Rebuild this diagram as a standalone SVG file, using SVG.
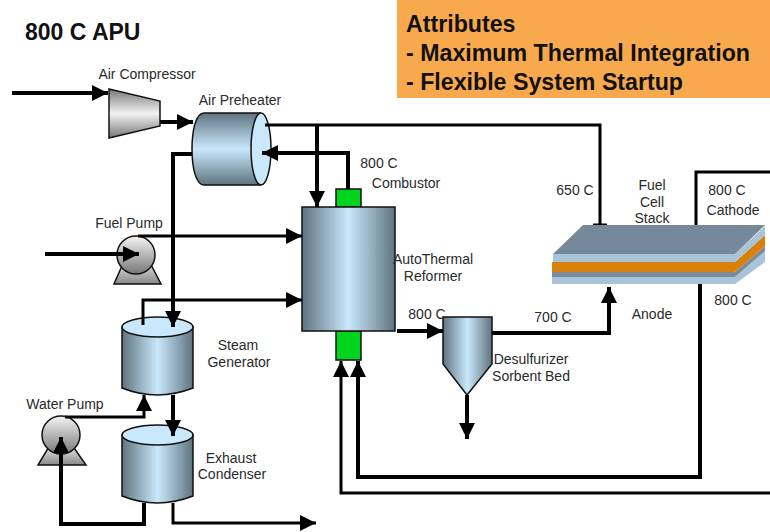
<svg xmlns="http://www.w3.org/2000/svg" width="770" height="532" viewBox="0 0 770 532">
<style>
text{font-family:"Liberation Sans",Arial,sans-serif;font-size:14px;fill:#2a2a2a;text-anchor:middle}
.t{font-weight:bold;fill:#111;text-anchor:start}
.eq{stroke:#111;stroke-width:1.5}
.c{fill:none;stroke:#000;stroke-width:4}
.k{fill:none;stroke:#000;stroke-width:3}
</style>
<defs>
<linearGradient id="h"><stop offset="0" stop-color="#5f7480"/><stop offset=".5" stop-color="#c9e8fb"/><stop offset="1" stop-color="#5f7480"/></linearGradient>
<linearGradient id="v" x2="0" y2="1"><stop offset="0" stop-color="#5f7480"/><stop offset=".5" stop-color="#c9e8fb"/><stop offset="1" stop-color="#5f7480"/></linearGradient>
<linearGradient id="g" x2="0" y2="1"><stop offset="0" stop-color="#777"/><stop offset=".5" stop-color="#f2f2f2"/><stop offset="1" stop-color="#777"/></linearGradient>
<linearGradient id="p" x2="0" y2="1"><stop offset="0" stop-color="#f4f4f4"/><stop offset="1" stop-color="#777"/></linearGradient>
<linearGradient id="b" x2="0" y2="1"><stop offset="0" stop-color="#eee"/><stop offset="1" stop-color="#888"/></linearGradient>
<marker id="a" markerUnits="userSpaceOnUse" markerWidth="17" markerHeight="17" refX="16" refY="8" orient="auto"><path d="M0 0L16 8L0 16Z"/></marker>
</defs>
<rect width="770" height="532" fill="#fff"/>
<text class="t" x="25" y="40" style="font-size:23px">800 C APU</text>
<g id="attributes">
<rect x="397" y="0" width="373" height="98" fill="#f8a94d"/>
<text class="t" x="406" y="32" style="font-size:23.200px">Attributes</text>
<text class="t" x="406" y="61" style="font-size:23.200px">- Maximum Thermal Integration</text>
<text class="t" x="406" y="90" style="font-size:23.200px">- Flexible System Startup</text>
</g>
<g id="air-compressor"><polygon class="eq" points="109,89 160,101 160,126 109,138" fill="url(#g)"/><text x="147" y="79">Air Compressor</text></g>
<g id="air-preheater"><path class="eq" d="M260 113H204C196 113 192 130 192 149S196 185 204 185H260Z" fill="url(#v)"/><ellipse class="eq" cx="261" cy="149" rx="10" ry="36" fill="#c9e8fb"/><text x="240" y="105">Air Preheater</text></g>
<g id="fuel-pump"><polygon points="125,259 148,259 161,284 114,284" class="eq" fill="url(#b)" stroke-width="1"/><circle class="eq" cx="136" cy="255" r="19" fill="url(#p)"/><text x="129" y="228">Fuel Pump</text></g>
<g id="water-pump"><polygon points="50,445 72,445 86,465 38,465" class="eq" fill="url(#b)" stroke-width="1"/><circle class="eq" cx="61" cy="435" r="19" fill="url(#p)"/><text x="65" y="409">Water Pump</text></g>
<g id="steam-generator"><path class="eq" d="M122 327V388Q157 402 193 388V327Z" fill="url(#h)"/><ellipse class="eq" cx="157.500" cy="327" rx="35.500" ry="10" fill="#c9e8fb"/><text x="238" y="350">Steam</text><text x="239" y="367">Generator</text></g>
<g id="exhaust-condenser"><path class="eq" d="M122 435V496Q157 510 193 496V435Z" fill="url(#h)"/><ellipse class="eq" cx="157.500" cy="435" rx="35.500" ry="10" fill="#c9e8fb"/><text x="231" y="463">Exhaust</text><text x="232" y="479">Condenser</text></g>
<g id="combustor"><rect class="eq" x="336" y="189" width="25" height="18" fill="#00d41c"/><rect class="eq" x="336" y="331" width="25" height="29" fill="#00d41c"/><text x="379" y="168">800 C</text><text x="406" y="188">Combustor</text></g>
<g id="reformer"><rect class="eq" x="302" y="207" width="93" height="124" fill="url(#h)"/><text x="433" y="264">AutoThermal</text><text x="433" y="281">Reformer</text></g>
<g id="desulfurizer"><polygon class="eq" points="443,317 492,317 492,364 467,395 443,364" fill="url(#h)"/><text x="531" y="364">Desulfurizer</text><text x="531" y="381">Sorbent Bed</text></g>
<g id="connectors">
<path class="c" d="M12 93H108" marker-end="url(#a)"/>
<path class="c" d="M160 122H193" marker-end="url(#a)"/>
<path class="k" d="M265 125H600V225"/><path class="k" d="M593 225H607"/>
<path class="c" d="M317 125V207" marker-end="url(#a)"/>
<path class="c" d="M348 189V153H262" marker-end="url(#a)"/>
<path class="c" d="M192 154H173V327" marker-end="url(#a)"/>
<path class="c" d="M45 254H139" marker-end="url(#a)"/>
<path class="k" d="M138 236H302" marker-end="url(#a)"/>
<path class="k" d="M143 325V300H302" marker-end="url(#a)"/>
<path class="k" d="M65 417H144V395" marker-end="url(#a)"/>
<path class="c" d="M144 503V524H61V437" marker-end="url(#a)"/>
<path class="c" d="M173 395V436" marker-end="url(#a)"/>
<path class="k" d="M173 503V523H316" marker-end="url(#a)"/>
<path class="c" d="M397 331H443" marker-end="url(#a)"/>
<path class="c" d="M492 333H609V287" marker-end="url(#a)"/>
<path class="c" d="M467 395V439" marker-end="url(#a)"/>
<path class="c" d="M700 284V477H358V361" marker-end="url(#a)"/>
<path class="k" d="M770 493H341V361" marker-end="url(#a)"/>
<path class="k" d="M696 226V172H770"/>
</g>
<g id="fuel-cell-stack">
<polygon points="552,277 735,277 765,251 765,262 735,284 552,284" fill="#a8c4d8"/>
<polygon points="552,272 735,272 765,246 765,251 735,277 552,277" fill="#7a8c98"/>
<polygon points="552,262 735,262 765,235 765,246 735,272 552,272" fill="#d97f0c"/>
<polygon points="553,254 735,254 765,226 765,235 735,262 553,262" fill="#a8c4d8"/>
<polygon points="583,225 765,225 735,254 553,254" fill="#76899a"/>
<text x="652" y="190">Fuel</text><text x="652" y="207">Cell</text><text x="652" y="223">Stack</text>
<text x="727" y="195">800 C</text><text x="733" y="215">Cathode</text>
<text x="733" y="305">800 C</text><text x="652" y="319">Anode</text>
</g>
<text x="575" y="195">650 C</text>
<text x="427" y="319">800 C</text>
<text x="553" y="322">700 C</text>
</svg>
